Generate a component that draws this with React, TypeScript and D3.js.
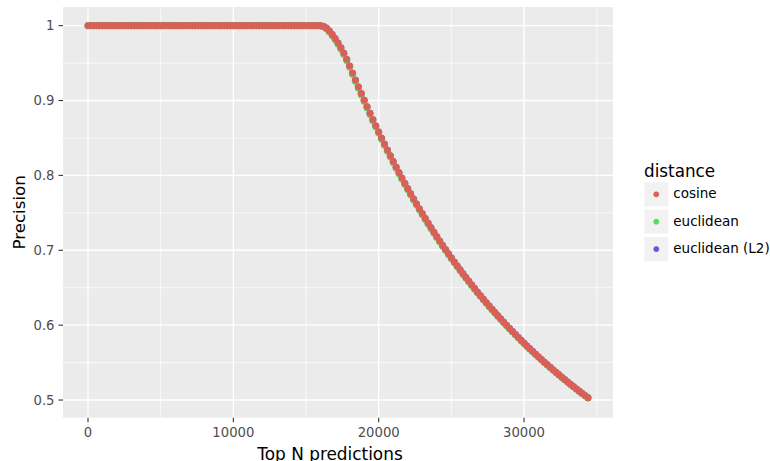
import * as d3 from "d3";
import { useEffect, useRef } from "react";

document.body.style.margin = "0";

// Top N cutoffs (every 200 predictions)
const topN = [
  0, 200, 400, 600, 800, 1000, 1200, 1400, 1600, 1800,
  2000, 2200, 2400, 2600, 2800, 3000, 3200, 3400, 3600, 3800,
  4000, 4200, 4400, 4600, 4800, 5000, 5200, 5400, 5600, 5800,
  6000, 6200, 6400, 6600, 6800, 7000, 7200, 7400, 7600, 7800,
  8000, 8200, 8400, 8600, 8800, 9000, 9200, 9400, 9600, 9800,
  10000, 10200, 10400, 10600, 10800, 11000, 11200, 11400, 11600, 11800,
  12000, 12200, 12400, 12600, 12800, 13000, 13200, 13400, 13600, 13800,
  14000, 14200, 14400, 14600, 14800, 15000, 15200, 15400, 15600, 15800,
  16000, 16200, 16400, 16600, 16800, 17000, 17200, 17400, 17600, 17800,
  18000, 18200, 18400, 18600, 18800, 19000, 19200, 19400, 19600, 19800,
  20000, 20200, 20400, 20600, 20800, 21000, 21200, 21400, 21600, 21800,
  22000, 22200, 22400, 22600, 22800, 23000, 23200, 23400, 23600, 23800,
  24000, 24200, 24400, 24600, 24800, 25000, 25200, 25400, 25600, 25800,
  26000, 26200, 26400, 26600, 26800, 27000, 27200, 27400, 27600, 27800,
  28000, 28200, 28400, 28600, 28800, 29000, 29200, 29400, 29600, 29800,
  30000, 30200, 30400, 30600, 30800, 31000, 31200, 31400, 31600, 31800,
  32000, 32200, 32400, 32600, 32800, 33000, 33200, 33400, 33600, 33800,
  34000, 34200, 34400
];

const cosine = [
  1, 1, 1, 1, 1, 1, 1, 1, 1, 1, 1, 1, 1, 1, 1, 1, 1, 1, 1, 1,
  1, 1, 1, 1, 1, 1, 1, 1, 1, 1, 1, 1, 1, 1, 1, 1, 1, 1, 1, 1,
  1, 1, 1, 1, 1, 1, 1, 1, 1, 1, 1, 1, 1, 1, 1, 1, 1, 1, 1, 1,
  1, 1, 1, 1, 1, 1, 1, 1, 1, 1, 1, 1, 1, 1, 1, 1, 1, 1, 1, 1,
  0.9998, 0.9990, 0.9968, 0.9930, 0.9882, 0.9828, 0.9770, 0.9704, 0.9632, 0.9550,
  0.9461, 0.9366, 0.9273, 0.9182, 0.9093, 0.9005, 0.8917, 0.8830, 0.8745, 0.8662,
  0.8580, 0.8498, 0.8418, 0.8339, 0.8262, 0.8186, 0.8110, 0.8036, 0.7964, 0.7893,
  0.7823, 0.7754, 0.7686, 0.7619, 0.7553, 0.7489, 0.7425, 0.7363, 0.7301, 0.7241,
  0.7181, 0.7123, 0.7065, 0.7009, 0.6953, 0.6898, 0.6844, 0.6791, 0.6739, 0.6687,
  0.6637, 0.6587, 0.6537, 0.6489, 0.6441, 0.6394, 0.6347, 0.6301, 0.6256, 0.6212,
  0.6168, 0.6125, 0.6082, 0.6040, 0.5998, 0.5957, 0.5916, 0.5877, 0.5837, 0.5798,
  0.5760, 0.5722, 0.5685, 0.5648, 0.5612, 0.5576, 0.5540, 0.5505, 0.5471, 0.5437,
  0.5403, 0.5370, 0.5337, 0.5305, 0.5273, 0.5241, 0.5210, 0.5179, 0.5148, 0.5118,
  0.5088, 0.5059, 0.5030
];

const euclidean = [
  1, 1, 1, 1, 1, 1, 1, 1, 1, 1, 1, 1, 1, 1, 1, 1, 1, 1, 1, 1,
  1, 1, 1, 1, 1, 1, 1, 1, 1, 1, 1, 1, 1, 1, 1, 1, 1, 1, 1, 1,
  1, 1, 1, 1, 1, 1, 1, 1, 1, 1, 1, 1, 1, 1, 1, 1, 1, 1, 1, 1,
  1, 1, 1, 1, 1, 1, 1, 1, 1, 1, 1, 1, 1, 1, 1, 1, 1, 1, 1, 1,
  0.9997, 0.9984, 0.9956, 0.9914, 0.9864, 0.9810, 0.9752, 0.9686, 0.9614, 0.9532,
  0.9443, 0.9348, 0.9255, 0.9164, 0.9075, 0.8987, 0.8899, 0.8812, 0.8727, 0.8645,
  0.8563, 0.8481, 0.8401, 0.8322, 0.8245, 0.8169, 0.8094, 0.8020, 0.7948, 0.7877,
  0.7807, 0.7739, 0.7671, 0.7604, 0.7538, 0.7474, 0.7411, 0.7349, 0.7287, 0.7227,
  0.7168, 0.7110, 0.7052, 0.6996, 0.6941, 0.6886, 0.6832, 0.6779, 0.6727, 0.6676,
  0.6626, 0.6576, 0.6527, 0.6479, 0.6431, 0.6384, 0.6338, 0.6292, 0.6247, 0.6203,
  0.6159, 0.6116, 0.6074, 0.6032, 0.5991, 0.5950, 0.5910, 0.5870, 0.5831, 0.5792,
  0.5754, 0.5716, 0.5679, 0.5643, 0.5607, 0.5571, 0.5536, 0.5501, 0.5467, 0.5433,
  0.5400, 0.5367, 0.5334, 0.5302, 0.5270, 0.5238, 0.5207, 0.5176, 0.5146, 0.5116,
  0.5086, 0.5057, 0.5028
];

// the blue points are completely hidden under the cosine ones
const euclideanL2 = cosine.slice();

const seriesNames = ["cosine", "euclidean", "euclidean (L2)"];
const seriesColors = ["#db5f57", "#57db5f", "#5f57db"];

const xMajor = [0, 10000, 20000, 30000];
const xMinor = [5000, 15000, 25000, 35000];
const yMajor = [0.5, 0.6, 0.7, 0.8, 0.9, 1];
const yMinor = [0.55, 0.65, 0.75, 0.85, 0.95];

const W = 770;
const H = 461;
const panel = { left: 63, right: 613, top: 7, bottom: 417.7 };
const font = "DejaVu Sans, sans-serif";

const App = () => {
  const ref = useRef<SVGSVGElement>(null);

  useEffect(() => {
    const svg = d3.select(ref.current);
    svg.selectAll("*").remove();

    const x = d3.scaleLinear().domain([-1720, 36120]).range([panel.left, panel.right]);
    const y = d3.scaleLinear().domain([0.4764, 1.0249]).range([panel.bottom, panel.top]);

    svg.append("rect")
      .attr("x", panel.left)
      .attr("y", panel.top)
      .attr("width", panel.right - panel.left)
      .attr("height", panel.bottom - panel.top)
      .attr("fill", "#ebebeb");

    const grid = svg.append("g");
    xMinor.forEach(v => {
      grid.append("line")
        .attr("x1", x(v)).attr("x2", x(v))
        .attr("y1", panel.top).attr("y2", panel.bottom)
        .attr("stroke", "#fff").attr("stroke-width", 0.7);
    });
    yMinor.forEach(v => {
      grid.append("line")
        .attr("x1", panel.left).attr("x2", panel.right)
        .attr("y1", y(v)).attr("y2", y(v))
        .attr("stroke", "#fff").attr("stroke-width", 0.7);
    });
    xMajor.forEach(v => {
      grid.append("line")
        .attr("x1", x(v)).attr("x2", x(v))
        .attr("y1", panel.top).attr("y2", panel.bottom)
        .attr("stroke", "#fff").attr("stroke-width", 1.4);
    });
    yMajor.forEach(v => {
      grid.append("line")
        .attr("x1", panel.left).attr("x2", panel.right)
        .attr("y1", y(v)).attr("y2", y(v))
        .attr("stroke", "#fff").attr("stroke-width", 1.4);
    });

    // points, drawn so cosine ends on top
    const allSeries = [cosine, euclidean, euclideanL2];
    [2, 1, 0].forEach(si => {
      svg.append("g")
        .selectAll("circle")
        .data(topN.map((n, i) => [n, allSeries[si][i]]))
        .enter()
        .append("circle")
        .attr("cx", d => x(d[0]))
        .attr("cy", d => y(d[1]))
        .attr("r", 3.2)
        .attr("fill", seriesColors[si])
        .attr("stroke", seriesColors[si])
        .attr("stroke-width", 0.6);
    });

    // axes
    const xAxis = svg.append("g");
    xMajor.forEach(v => {
      xAxis.append("line")
        .attr("x1", x(v)).attr("x2", x(v))
        .attr("y1", panel.bottom).attr("y2", panel.bottom + 4.5)
        .attr("stroke", "#333").attr("stroke-width", 1.1);
      xAxis.append("text")
        .attr("x", x(v))
        .attr("y", 436.5)
        .attr("text-anchor", "middle")
        .attr("font-family", font)
        .attr("font-size", 13.2)
        .attr("fill", "#4d4d4d")
        .text(String(v));
    });

    const yAxis = svg.append("g");
    yMajor.forEach(v => {
      yAxis.append("line")
        .attr("x1", panel.left - 4.5).attr("x2", panel.left)
        .attr("y1", y(v)).attr("y2", y(v))
        .attr("stroke", "#333").attr("stroke-width", 1.1);
      yAxis.append("text")
        .attr("x", 54.5)
        .attr("y", y(v) + 4.8)
        .attr("text-anchor", "end")
        .attr("font-family", font)
        .attr("font-size", 13.2)
        .attr("fill", "#4d4d4d")
        .text(d3.format("~g")(v));
    });

    svg.append("text")
      .attr("x", 330)
      .attr("y", 459.5)
      .attr("text-anchor", "middle")
      .attr("font-family", font)
      .attr("font-size", 16.9)
      .attr("fill", "#000")
      .text("Top N predictions");

    svg.append("text")
      .attr("transform", `translate(25, ${(panel.top + panel.bottom) / 2}) rotate(-90)`)
      .attr("text-anchor", "middle")
      .attr("font-family", font)
      .attr("font-size", 16.7)
      .attr("fill", "#000")
      .text("Precision");

    // legend
    const legend = svg.append("g");
    legend.append("text")
      .attr("x", 644)
      .attr("y", 176.7)
      .attr("font-family", font)
      .attr("font-size", 16.8)
      .attr("fill", "#000")
      .text("distance");

    seriesNames.forEach((name, i) => {
      const top = 182.3 + i * 27.4;
      legend.append("rect")
        .attr("x", 644.3)
        .attr("y", top)
        .attr("width", 24)
        .attr("height", 24)
        .attr("fill", "#f2f2f2");
      legend.append("circle")
        .attr("cx", 656.3)
        .attr("cy", top + 12)
        .attr("r", 2.6)
        .attr("fill", seriesColors[i])
        .attr("stroke", seriesColors[i])
        .attr("stroke-width", 0.6);
      legend.append("text")
        .attr("x", 673.3)
        .attr("y", top + 16)
        .attr("font-family", font)
        .attr("font-size", 13.5)
        .attr("fill", "#000")
        .text(name);
    });
  }, []);

  return <svg ref={ref} width={W} height={H} style={{ display: "block", background: "#fff" }}></svg>;
};

export default App;
